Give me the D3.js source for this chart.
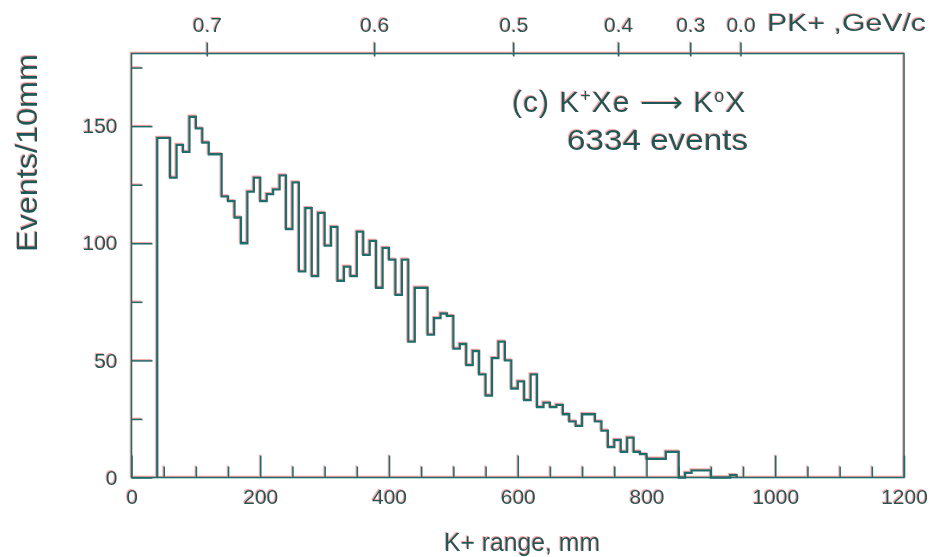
<!DOCTYPE html>
<html>
<head>
<meta charset="utf-8">
<script src="https://cdn.jsdelivr.net/npm/d3@7"></script>
<style>
  body { margin: 0; background: #fff; }
  svg { display: block; }
  text { font-family: "Liberation Sans", Arial, sans-serif; fill: #1f5857; }
</style>
</head>
<body>
<svg id="chart" width="934" height="557"></svg>
<script>
// histogram: events per 10 mm bin, first bin starts at 40 mm
var firstBin = 40;
var binWidth = 10;
var counts = [
  145, 145, 128, 142, 139, 154, 149, 143, 138, 138,   // 40-130
  120, 118, 111, 100, 122, 128, 118, 121, 123, 129,   // 140-230
  106, 126, 88, 115, 86, 113, 99, 107, 84, 90,        // 240-330
  86, 105, 95, 101, 81, 98, 93, 78, 93, 58,           // 340-430
  81, 81, 61, 68, 70, 69, 55, 57, 48, 54,             // 440-530
  44, 35, 51, 58, 50, 38, 41, 33, 44, 30,             // 540-630
  32, 30, 31, 27, 24, 22, 27, 27, 24, 20,             // 640-730
  13, 16, 11, 17, 11, 10, 8, 8, 8, 11,                // 740-830
  11, 0, 2, 3, 3, 3, 0, 0, 0, 1                       // 840-930
];

var xMajor = [0, 200, 400, 600, 800, 1000, 1200];
var xMinor = [50, 100, 150, 250, 300, 350, 450, 500, 550, 650, 700, 750, 850, 900, 950, 1050, 1100, 1150];
var yMajor = [0, 50, 100, 150];
var yMinor = [25, 75, 125, 175];

// top momentum scale: positions on the range axis and their labels
var pkTicks = [117, 377, 593, 756, 868, 946];
var pkLabels = ["0.7", "0.6", "0.5", "0.4", "0.3", "0.0"];

var lineColor = "#1f6e6c";

var svg = d3.select("#chart");

// red colour fringe like the scanned original
var defs = svg.append("defs");
var f = defs.append("filter").attr("id", "fringe")
  .attr("filterUnits", "userSpaceOnUse")
  .attr("x", 0).attr("y", 0).attr("width", 934).attr("height", 557);
f.append("feOffset").attr("in", "SourceAlpha").attr("dx", -1).attr("dy", -0.8).attr("result", "off");
f.append("feFlood").attr("flood-color", "#f05050").attr("flood-opacity", 0.5);
f.append("feComposite").attr("in2", "off").attr("operator", "in").attr("result", "red");
var m = f.append("feMerge");
m.append("feMergeNode").attr("in", "red");
m.append("feMergeNode").attr("in", "SourceGraphic");

var g = svg.append("g").attr("filter", "url(#fringe)");

var x = d3.scaleLinear().domain([0, 1200]).range([131.5, 904]);
var y = d3.scaleLinear().domain([0, 181]).range([477.5, 53.5]);

// frame
g.append("rect")
  .attr("x", x(0)).attr("y", y(181))
  .attr("width", x(1200) - x(0)).attr("height", y(0) - y(181))
  .attr("fill", "none").attr("stroke", lineColor).attr("stroke-width", 1.6);

function styleAxis(sel) {
  sel.select(".domain").remove();
  sel.selectAll(".tick line").attr("stroke", lineColor).attr("stroke-width", 1.6);
  sel.selectAll(".tick text").attr("fill", "#1f5857").style("font-size", "21px");
}

// bottom axis (ticks point inward)
g.append("g").attr("transform", "translate(0," + y(0) + ")")
  .call(d3.axisBottom(x).tickValues(xMajor).tickSize(-22).tickPadding(12).tickFormat(d3.format("d")))
  .call(styleAxis);
g.append("g").attr("transform", "translate(0," + y(0) + ")")
  .call(d3.axisBottom(x).tickValues(xMinor).tickSize(-11).tickFormat(""))
  .call(styleAxis);

// left axis
g.append("g").attr("transform", "translate(" + x(0) + ",0)")
  .call(d3.axisLeft(y).tickValues(yMajor).tickSize(-21).tickPadding(14))
  .call(styleAxis);
g.append("g").attr("transform", "translate(" + x(0) + ",0)")
  .call(d3.axisLeft(y).tickValues(yMinor).tickSize(-11).tickFormat(""))
  .call(styleAxis);

// top momentum axis
var topAxis = g.append("g").attr("transform", "translate(0," + y(181) + ")")
  .call(d3.axisTop(x).tickValues(pkTicks).tickSize(11).tickPadding(11)
    .tickFormat(function (d, i) { return pkLabels[i]; }))
  .call(styleAxis);
topAxis.selectAll(".tick line").attr("y1", 3);

g.append("text")
  .attr("x", 767).attr("y", 31)
  .attr("textLength", 159).attr("lengthAdjust", "spacingAndGlyphs")
  .style("font-size", "23px")
  .text("PK+ ,GeV/c");

// histogram outline
var pts = [[firstBin, 0]];
counts.forEach(function (c, i) { pts.push([firstBin + i * binWidth, c]); });
var lastEdge = firstBin + counts.length * binWidth;
pts.push([lastEdge, counts[counts.length - 1]]);
pts.push([lastEdge, 0]);

var line = d3.line()
  .x(function (d) { return x(d[0]); })
  .y(function (d) { return y(d[1]); })
  .curve(d3.curveStepAfter);

g.append("path")
  .attr("d", line(pts))
  .attr("fill", "none")
  .attr("stroke", lineColor)
  .attr("stroke-width", 2.3)
  .attr("stroke-linejoin", "miter");

// axis titles
g.append("text")
  .attr("x", 522).attr("y", 551)
  .attr("text-anchor", "middle")
  .attr("textLength", 156).attr("lengthAdjust", "spacingAndGlyphs")
  .style("font-size", "25px")
  .text("K+ range, mm");

g.append("text")
  .attr("transform", "translate(37,153) rotate(-90)")
  .attr("text-anchor", "middle")
  .attr("textLength", 198).attr("lengthAdjust", "spacingAndGlyphs")
  .style("font-size", "29px")
  .text("Events/10mm");

// annotation
var t1 = g.append("text")
  .attr("x", 512).attr("y", 112)
  .style("font-size", "30px")
  .style("letter-spacing", "1px");
t1.append("tspan").text("(c) K");
t1.append("tspan").attr("baseline-shift", "super").style("font-size", "18px").text("+");
t1.append("tspan").text("Xe \u27F6 K");
t1.append("tspan").attr("baseline-shift", "super").style("font-size", "18px").text("o");
t1.append("tspan").text("X");

g.append("text")
  .attr("x", 567).attr("y", 150)
  .attr("textLength", 181).attr("lengthAdjust", "spacingAndGlyphs")
  .style("font-size", "29px")
  .text("6334 events");
</script>
</body>
</html>
